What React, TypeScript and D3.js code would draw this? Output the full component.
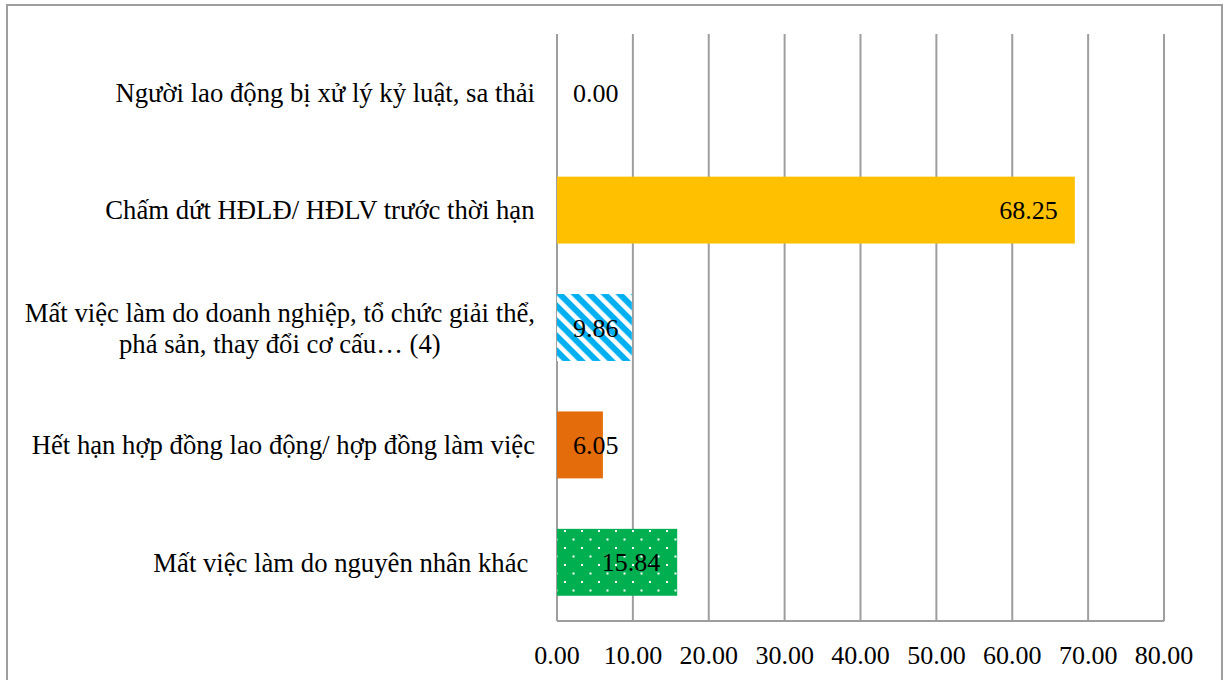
import React from "react";
import * as d3 from "d3";

const categories = [
  "Người lao động bị xử lý kỷ luật, sa thải",
  "Chấm dứt HĐLĐ/ HĐLV trước thời hạn",
  "Mất việc làm do doanh nghiệp, tổ chức giải thể,\nphá sản, thay đổi cơ cấu… (4)",
  "Hết hạn hợp đồng lao động/ hợp đồng làm việc",
  "Mất việc làm do nguyên nhân khác ",
];
const values = [0.0, 68.25, 9.86, 6.05, 15.84];
const fills = ["#FFC000", "#FFC000", "url(#hatch)", "#E46C0A", "url(#dots)"];
const ticks = [0, 10, 20, 30, 40, 50, 60, 70, 80];

const W = 1226;
const H = 680;
const FONT = "'Liberation Serif', 'Times New Roman', serif";
const FS = 26;
const CFS = 26.7;

let ctx: CanvasRenderingContext2D | null = null;
function measure(t: string, fs: number): number {
  if (!ctx) {
    const c = document.createElement("canvas");
    ctx = c.getContext("2d");
  }
  if (!ctx) return t.length * fs * 0.45;
  ctx.font = `${fs}px 'Liberation Serif'`;
  return ctx.measureText(t).width;
}

export default function App() {
  const x = d3.scaleLinear().domain([0, 80]).range([557, 1164]);
  const y = d3
    .scaleBand<string>()
    .domain(categories)
    .range([34, 621])
    .paddingInner(0.43)
    .paddingOuter(0.215);
  const labelRight = 535;
  const grid = "#9e9e9e";

  return (
    <svg
      width={W}
      height={H}
      style={{ position: "absolute", left: 0, top: 0, display: "block", background: "#fff" }}
      fontFamily={FONT}
    >
      <defs>
        <pattern id="hatch" patternUnits="userSpaceOnUse" width={10.6} height={10.6} patternTransform="rotate(-45)">
          <rect width={10.6} height={10.6} fill="#00B0F0" />
          <rect x={0} y={0} width={4.6} height={10.6} fill="#ffffff" />
        </pattern>
        <pattern id="dots" patternUnits="userSpaceOnUse" width={17} height={17}>
          <rect width={17} height={17} fill="#00B050" />
          <rect x={3} y={3} width={2} height={2} fill="#ffffff" />
          <rect x={11.5} y={11.5} width={2} height={2} fill="#ffffff" />
        </pattern>
      </defs>
      <rect x={7} y={5} width={1215} height={720} fill="#fff" stroke="#9e9e9e" strokeWidth={2} />

      {ticks.map((t) => (
        <line key={"g" + t} x1={x(t)} x2={x(t)} y1={34} y2={621} stroke={grid} strokeWidth={2} />
      ))}
      <line x1={x(0)} x2={x(80)} y1={621} y2={621} stroke={grid} strokeWidth={2} />

      {categories.map((c, i) => {
        const y0 = y(c) as number;
        const bw = x(values[i]) - x(0);
        return bw > 0 ? (
          <rect key={"b" + i} x={x(0)} y={y0} width={bw} height={y.bandwidth()} fill={fills[i]} />
        ) : null;
      })}

      {categories.map((c, i) => {
        const yc = (y(c) as number) + y.bandwidth() / 2;
        const txt = values[i].toFixed(2);
        const w = measure(txt, FS);
        const end = Math.max(x(values[i]) - 17, x(0) + 16 + w);
        return (
          <text key={"v" + i} x={end} y={yc} dy="0.35em" textAnchor="end" fontSize={FS} fill="#000">
            {txt}
          </text>
        );
      })}

      {categories.map((c, i) => {
        const yc = (y(c) as number) + y.bandwidth() / 2;
        const lines = c.split("\n");
        if (lines.length === 1) {
          const w = measure(c, CFS);
          return (
            <text key={"c" + i} x={labelRight - w} y={yc} dy="0.35em" fontSize={CFS} fill="#000" style={{ whiteSpace: "pre" }}>
              {c}
            </text>
          );
        }
        const maxW = Math.max(...lines.map((l) => measure(l, CFS)));
        const cx = labelRight - maxW / 2;
        const lh = 31;
        return (
          <text key={"c" + i} x={cx} y={yc} textAnchor="middle" fontSize={CFS} fill="#000">
            {lines.map((l, j) => (
              <tspan key={j} x={cx} y={yc + (j - (lines.length - 1) / 2) * lh + 1} dy="0.35em">
                {l}
              </tspan>
            ))}
          </text>
        );
      })}

      {ticks.map((t) => (
        <text key={"t" + t} x={x(t)} y={655} dy="0.35em" textAnchor="middle" fontSize={FS} fill="#000">
          {t.toFixed(2)}
        </text>
      ))}
    </svg>
  );
}
